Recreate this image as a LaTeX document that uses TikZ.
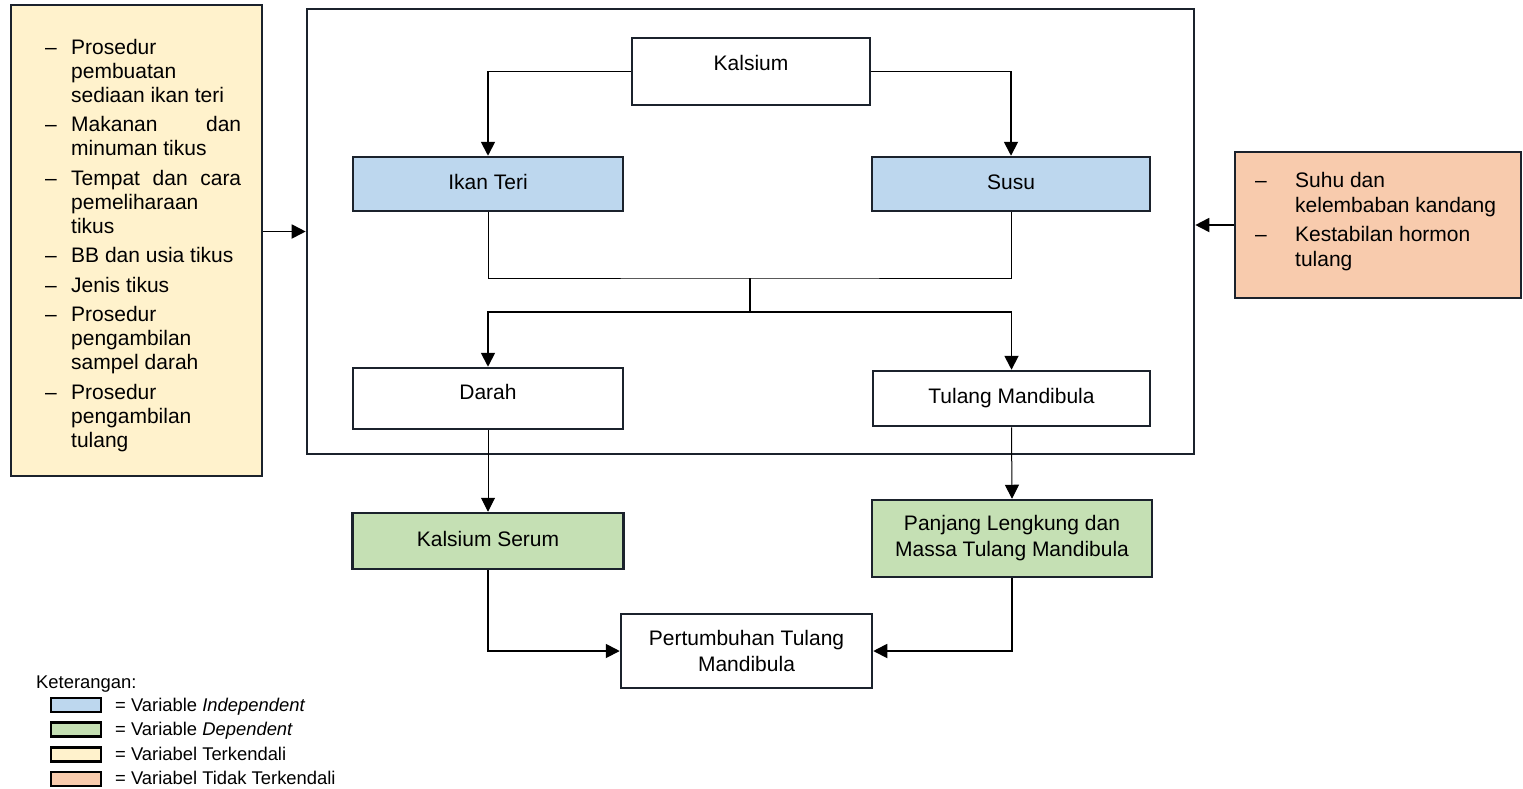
\documentclass[tikz,border=0pt]{standalone}
\usepackage{fontspec}
\setmainfont{Liberation Sans}
\usetikzlibrary{arrows.meta}
\definecolor{indep}{HTML}{BDD7EE}
\definecolor{dep}{HTML}{C5E0B4}
\definecolor{ctrlfill}{HTML}{FFF2CC}
\definecolor{unctrlfill}{HTML}{F8CBAD}
\definecolor{edge}{HTML}{1B222C}

\tikzset{
  box/.style={draw=edge, line width=2.5pt, inner sep=0pt, align=center,
    font=\fontsize{21}{26}\selectfont},
  oneline/.style={text height=15pt, text depth=5pt},
  frame/.style={draw=edge, line width=2.6pt, minimum width=887pt, minimum height=445pt},
  listtext/.style={inner sep=0pt, anchor=base west},
  conn/.style={line width=1.8pt},
  thinconn/.style={line width=1pt},
  tip/.style={-{Triangle[length=14pt,width=14pt]}},
  swatch/.style={draw=black, line width=2.6pt, minimum width=50pt, minimum height=14pt, inner sep=0pt},
  legtext/.style={anchor=base west, inner sep=0pt, font=\fontsize{18.4}{21}\selectfont}
}

\begin{document}
\begin{tikzpicture}[x=1pt,y=-1pt]
\useasboundingbox (0,0) rectangle (1523,788);

\node[frame] (frame) at (750.5,231.5) {};

\node[box, oneline, text depth=17pt, minimum width=238pt, minimum height=67pt] (kalsium) at (751,71.5) {Kalsium};
\node[box, oneline, fill=indep, minimum width=270pt, minimum height=54pt] (ikan) at (488,184) {Ikan Teri};
\node[box, oneline, fill=indep, minimum width=278pt, minimum height=54pt] (susu) at (1011,184) {Susu};
\node[box, oneline, text depth=13pt, minimum width=270pt, minimum height=61pt] (darah) at (488,398.5) {Darah};
\node[box, oneline, minimum width=277pt, minimum height=55pt] (tulang) at (1011.5,398.5) {Tulang Mandibula};
\node[box, oneline, fill=dep, minimum width=271pt, minimum height=56pt] (serum) at (488,541) {Kalsium Serum};
\node[box, fill=dep, minimum width=280pt, minimum height=77pt] (panjang) at (1012,538.5) {Panjang Lengkung dan\\Massa Tulang Mandibula};
\node[box, minimum width=251pt, minimum height=74pt] (tumbuh) at (746.5,651) {Pertumbuhan Tulang\\Mandibula};

\node[box, fill=ctrlfill, minimum width=251pt, minimum height=471pt] (ctrl) at (136.5,240.5) {};
\node[listtext, font=\fontsize{21}{24}\selectfont] (ctrltxt) at (45,54) {%
\begin{tabular}[t]{@{}p{26pt}@{}p{170pt}@{}}
–& Prosedur\\
 & pembuatan\\
 & sediaan ikan teri\\[5.5pt]
–& \makebox[170pt][s]{Makanan dan}\\
 & minuman tikus\\[5.5pt]
–& \makebox[170pt][s]{Tempat dan cara}\\
 & pemeliharaan\\
 & tikus\\[5.5pt]
–& BB dan usia tikus\\[5.5pt]
–& Jenis tikus\\[5.5pt]
–& Prosedur\\
 & pengambilan\\
 & sampel darah\\[5.5pt]
–& Prosedur\\
 & pengambilan\\
 & tulang
\end{tabular}};

\node[box, fill=unctrlfill, minimum width=286pt, minimum height=146pt] (unctrl) at (1378,225) {};
\node[listtext, font=\fontsize{21}{25}\selectfont] (unctrltxt) at (1255,187) {%
\begin{tabular}[t]{@{}p{40pt}@{}l@{}}
–& Suhu dan\\
 & kelembaban kandang\\[4pt]
–& Kestabilan hormon\\
 & tulang
\end{tabular}};

\coordinate (join) at (750,278);
\coordinate (split) at (750,312);

\draw[conn, tip] (kalsium.west) -| (ikan.north);
\draw[conn, tip] (kalsium.east) -| (susu.north);
\draw[thinconn] (ikan.south) |- (join) -| (susu.south);
\draw[conn] (join) -- (split);
\draw[conn, tip] (split) -| (darah.north);
\draw[conn, tip] (split) -| (tulang.north);
\draw[thinconn, tip] (darah.south) -- (serum.north);
\draw[thinconn, tip] (tulang.south) -- (panjang.north);
\draw[conn, tip] (serum.south) |- (tumbuh.west);
\draw[conn, tip] (panjang.south) |- (tumbuh.east);
\draw[conn, tip] (ctrl.east |- frame.west) -- (frame.west);
\draw[conn, tip] (unctrl.west) -- (frame.east |- unctrl.west);

% legend
\node[legtext] (ket) at (36,688) {Keterangan:};
\node[swatch, fill=indep] (sw1) at (76,705) {};
\node[swatch, fill=dep] (sw2) at (76,729.5) {};
\node[swatch, fill=ctrlfill] (sw3) at (76,754.5) {};
\node[swatch, fill=unctrlfill] (sw4) at (76,779) {};
\node[legtext] (lg1) at (115,711) {= Variable \textit{Independent}};
\node[legtext] (lg2) at (115,735.5) {= Variable \textit{Dependent}};
\node[legtext] (lg3) at (115,760) {= Variabel Terkendali};
\node[legtext] (lg4) at (115,784.5) {= Variabel Tidak Terkendali};
\end{tikzpicture}
\end{document}
